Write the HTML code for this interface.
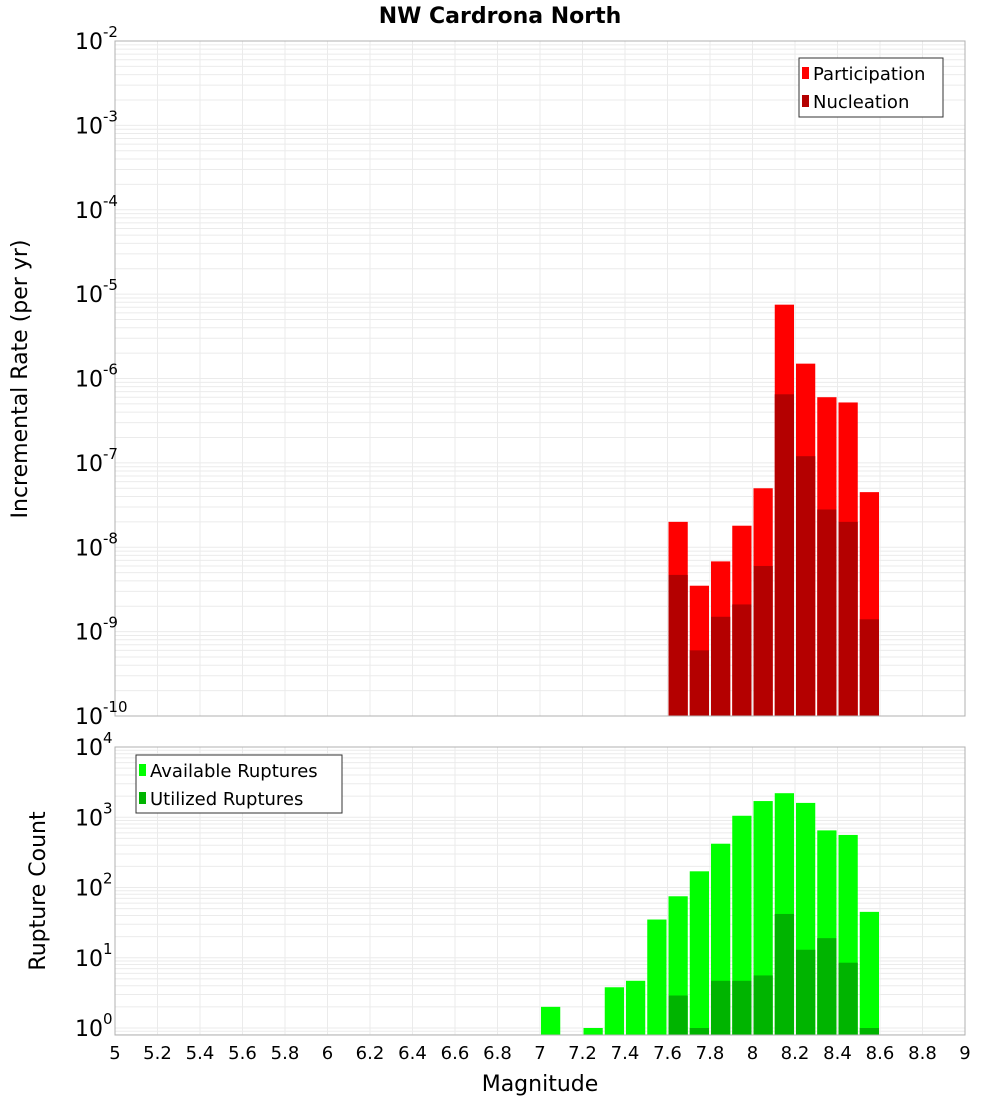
<!DOCTYPE html>
<html><head><meta charset="utf-8"><style>body{margin:0;background:#fff}svg{display:block;font-family:"DejaVu Sans","Liberation Sans",sans-serif}</style></head>
<body>
<svg id="c" width="1000" height="1100" xmlns="http://www.w3.org/2000/svg"></svg>
<script>
const bins=[7.65,7.75,7.85,7.95,8.05,8.15,8.25,8.35,8.45,8.55];
const participation=[2e-8,3.5e-9,6.8e-9,1.8e-8,5e-8,7.5e-6,1.5e-6,6e-7,5.2e-7,4.5e-8];
const nucleation=[4.7e-9,6e-10,1.5e-9,2.1e-9,6e-9,6.5e-7,1.2e-7,2.8e-8,2e-8,1.4e-9];
const rupBins=[7.05,7.25,7.35,7.45,7.55,7.65,7.75,7.85,7.95,8.05,8.15,8.25,8.35,8.45,8.55];
const available=[2,1,3.8,4.7,35,75,170,420,1050,1700,2200,1600,650,560,45];
const utilBins=[7.65,7.75,7.85,7.95,8.05,8.15,8.25,8.35,8.45,8.55];
const utilized=[2.9,1,4.7,4.7,5.6,42,13,19,8.5,1];
const xTicks=[5,5.2,5.4,5.6,5.8,6,6.2,6.4,6.6,6.8,7,7.2,7.4,7.6,7.8,8,8.2,8.4,8.6,8.8,9];
const topExp=[-2,-3,-4,-5,-6,-7,-8,-9,-10];
const botExp=[4,3,2,1,0];

const svg=document.getElementById('c');const NS='http://www.w3.org/2000/svg';
function el(t,a,p){const e=document.createElementNS(NS,t);for(const k in a)e.setAttribute(k,a[k]);(p||svg).appendChild(e);return e;}
const X0=115,X1=965;const x=v=>X0+(v-5)/4*(X1-X0);
const T0=41,T1=716;const yT=v=>T0+(-2-Math.log10(v))*(T1-T0)/8;
const B0=747,B1=1035;const DEC=(1028-747)/4;const yB=v=>1028-Math.log10(v)*DEC;

function grid(y0,y1,yf,lo,hi,name){
  const g=el('g',{});
  for(let t=5;t<=9.001;t+=0.2){el('line',{x1:x(t),x2:x(t),y1:y0,y2:y1,stroke:'#ebebeb','stroke-width':1},g);}
  for(let e=lo;e<hi;e++)for(let m=1;m<10;m++){const yy=yf(m*Math.pow(10,e));if(yy>=y0&&yy<=y1)el('line',{x1:X0,x2:X1,y1:yy,y2:yy,stroke:'#ebebeb','stroke-width':1},g);}
}
grid(T0,T1,yT,-10,-2,'top-grid');grid(B0,B1,yB,-1,4,'bottom-grid');

function bars(bs,vs,yf,base,color,name){
  const g=el('g',{});
  bs.forEach((b,i)=>{const xl=x(b-0.05)+1,xr=x(b+0.05)-1;const yt=yf(vs[i]);
    const r=el('rect',{x:xl,y:yt,width:xr-xl,height:base-yt,fill:color},g);
    });
}
bars(bins,participation,yT,T1,'#ff0000','participation');
bars(bins,nucleation,yT,T1,'#b40000','nucleation');
bars(rupBins,available,yB,B1,'#00ff00','available-ruptures');
bars(utilBins,utilized,yB,B1,'#00b400','utilized-ruptures');

el('rect',{x:X0,y:T0,width:X1-X0,height:T1-T0,fill:'none',stroke:'#b0b0b0'});
el('rect',{x:X0,y:B0,width:X1-X0,height:B1-B0,fill:'none',stroke:'#b0b0b0'});

function txt(s,a,name){const t=el('text',a);t.textContent=s;return t;}
function pow(e,yy,name){const t=el('text',{x:103,y:yy+8,'text-anchor':'end','font-size':22,fill:'#000'});
  const a=el('tspan',{},t);a.textContent='10';const b=el('tspan',{'font-size':15,dy:-12},t);b.textContent=String(e);
  t.setAttribute('x',75);t.setAttribute('text-anchor','start');}
topExp.forEach(e=>pow(e,yT(Math.pow(10,e)),'top-y-tick'));
botExp.forEach(e=>pow(e,yB(Math.pow(10,e)),'bottom-y-tick'));
xTicks.forEach(t=>txt(String(t),{x:x(t),y:1059,'text-anchor':'middle','font-size':18,fill:'#000'},'x-tick'));
txt('NW Cardrona North',{x:500,y:23,'text-anchor':'middle','font-size':22,'font-weight':'bold'},'chart-title');
txt('Magnitude',{x:540,y:1091,'text-anchor':'middle','font-size':22},'x-axis-title');
txt('Incremental Rate (per yr)',{x:0,y:0,'text-anchor':'middle','font-size':22,transform:'translate(27,379) rotate(-90)'},'top-y-axis-title');
txt('Rupture Count',{x:0,y:0,'text-anchor':'middle','font-size':22,transform:'translate(45,891) rotate(-90)'},'bottom-y-axis-title');

function legend(x0,y0,w,h,items,name){
  const g=el('g',{});
  el('rect',{x:x0,y:y0,width:w,height:h,fill:'#fff',stroke:'#333'},g);
  items.forEach((it,i)=>{const yy=y0+15+i*28;el('rect',{x:x0+3,y:yy-6,width:7,height:12,fill:it[1]},g);
    const t=el('text',{x:x0+14,y:yy+7,'font-size':18},g);t.textContent=it[0];});
}
legend(799,58,144,59,[['Participation','#ff0000'],['Nucleation','#b40000']],'top-legend');
legend(136,755,206,58,[['Available Ruptures','#00ff00'],['Utilized Ruptures','#00b400']],'bottom-legend');
</script>
</body></html>
